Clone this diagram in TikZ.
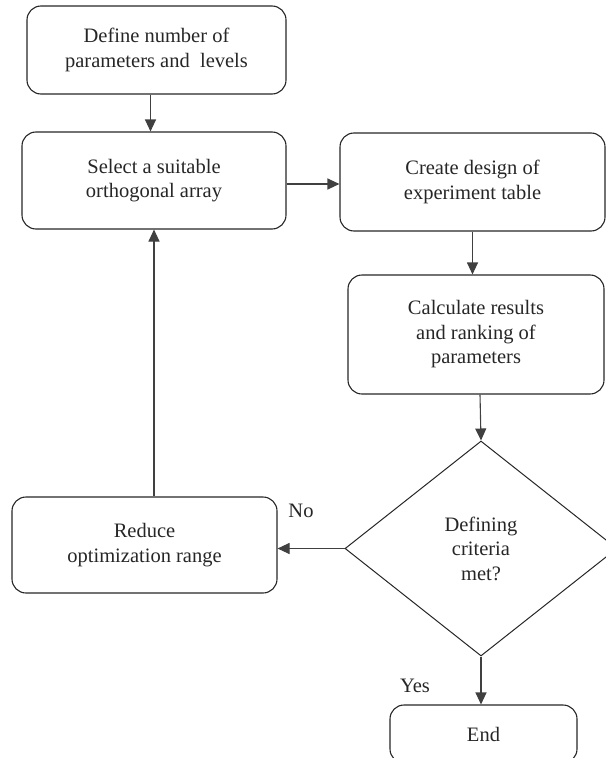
\documentclass[tikz,border=0pt]{standalone}
\usepackage{fontspec}
\setmainfont{Liberation Serif}
\usetikzlibrary{arrows.meta,shapes.geometric,calc}
\tikzset{
  flowbox/.style={draw=black!85, line width=1.1bp, rounded corners=14bp, align=center, inner sep=0pt,
    font=\fontsize{20.5bp}{24.5bp}\selectfont, text=black!85},
  decision/.style={draw=black!85, line width=1bp, shape=diamond, aspect=1.265, minimum width=272bp,
    minimum height=215bp, inner sep=0pt, align=center, font=\fontsize{20.5bp}{24.5bp}\selectfont, text=black!85},
  conn/.style={draw=black!75, line width=1.1bp, -{Triangle[length=12bp,width=11bp]}},
  plainconn/.style={draw=black!75, line width=1.1bp},
  lbl/.style={font=\fontsize{20.5bp}{24.5bp}\selectfont, text=black!85, inner sep=0pt}
}
\begin{document}
\begin{tikzpicture}[x=1bp,y=-1bp]
\useasboundingbox (0,0) rectangle (606,758);
\clip (0,0) rectangle (606,758);
\node[flowbox, minimum width=259bp, minimum height=88bp] (box1) at (156.5,50) {Define number of\\parameters and\ \ levels};
\node[flowbox, minimum width=264bp, minimum height=97bp] (box2) at (154,180.5) {Select a suitable\\orthogonal array};
\node[flowbox, minimum width=265bp, minimum height=98bp] (box3) at (472.5,182) {Create design of\\experiment table};
\node[flowbox, minimum width=256bp, minimum height=119bp] (box4) at (476,334.5) {Calculate results\\and ranking of\\parameters};
\node[decision] (dia) at (481,548.5) {Defining\\criteria\\met?};
\node[flowbox, minimum width=265bp, minimum height=96bp] (box5) at (144.5,545) {Reduce\\optimization range};
\node[flowbox, minimum width=187bp, minimum height=58bp] (endb) at (483.5,734) {End};
\node[lbl] (no) at (301,511) {No};
\node[lbl] (yes) at (415,686) {Yes};

\draw[conn] ([xshift=-6bp]box1.south) -- ([xshift=-6bp]box1.south |- box2.north);
\draw[conn] ([yshift=-3.5bp]box2.east) -- ([yshift=-3.5bp]box2.east -| box3.west);
\draw[conn] (box3.south) -- (box3.south |- box4.north);
\draw[conn] ([xshift=4bp]box4.south) -- (dia.north);
\draw[conn] (dia.west) -- (dia.west -| box5.east);
\draw[conn] (dia.south) -- (dia.south |- endb.north);
\draw[conn] (box5.north -| box2.south) -- (box2.south);
\end{tikzpicture}
\end{document}
